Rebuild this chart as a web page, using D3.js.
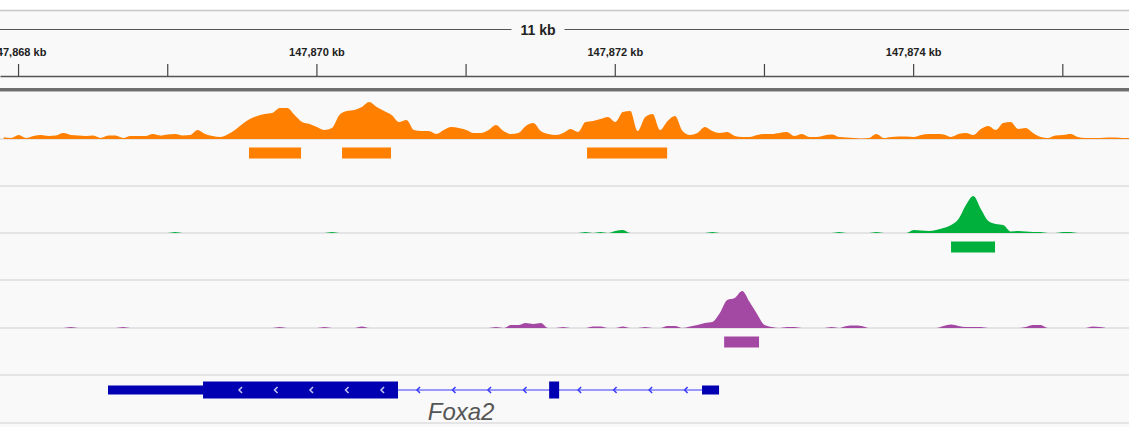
<!DOCTYPE html>
<html>
<head>
<meta charset="utf-8">
<script src="https://cdn.jsdelivr.net/npm/d3@7"></script>
<style>
  body { margin: 0; background: #f9f9f9; }
  svg { display: block; }
</style>
</head>
<body>
<svg id="igv" width="1129" height="427"></svg>
<script>
// genomic window (bp)
var viewStart = 147867879;
var viewEnd = 147875447;
var spanLabel = "11 kb";
var rulerTicks = [147868000, 147869000, 147870000, 147871000, 147872000, 147873000, 147874000, 147875000];

// coverage, 50 bp bins starting at viewStart
var binSize = 50;
var orangeValues = [
  1.7, 1, 4, 1, 3, 4, 3, 3.5, 6, 4, 3.5, 3, 3.5, 1, 3.5, 3.5, 1, 3, 3, 3,
  5, 3.5, 4.5, 5, 3.5, 4, 9, 5, 3, 2, 4.5, 9, 15, 20, 23, 25, 26, 31, 31, 24,
  17, 15, 12, 9, 11, 24, 28, 29, 32, 37, 32, 28, 24, 17, 19, 9, 8, 8, 5, 9,
  12, 11, 9, 6, 6, 9, 14, 8, 5, 6, 13, 16, 8, 5, 4, 6, 10, 7, 17, 18,
  20, 22, 17, 27, 28, 8, 22, 25, 9, 18, 23, 8, 4, 6, 12, 8, 6, 7, 3, 2,
  2, 4, 5, 5, 6, 7, 3, 5, 2, 2, 3.5, 4.5, 2, 1.5, 1, 0.5, 1, 5, 1, 2,
  2.5, 2.5, 2, 4, 5, 5, 4.5, 2, 5, 6, 4, 10, 13, 9, 16, 17, 10, 11, 6, 2,
  1, 3.5, 4, 5, 2, 1, 1, 1, 1.5, 1.5, 1, 1
];
var greenValues = [
  0, 0, 0, 0, 0, 0, 0, 0, 0, 0, 0, 0, 0, 0, 0, 0, 0, 0, 0, 0,
  0, 0, 0, 1, 0, 0, 0, 0, 0, 0, 0, 0, 0, 0, 0, 0, 0, 0, 0, 0,
  0, 0, 0, 0, 1, 0, 0, 0, 0, 0, 0, 0, 0, 0, 0, 0, 0, 0, 0, 0,
  0, 0, 0, 0, 0, 0, 0, 0, 0, 0, 0, 0, 0, 0, 0, 0, 0, 0, 1, 0,
  1, 0, 2, 3, 0, 0, 0, 0, 0, 0, 0, 0, 0, 0, 0, 1, 0, 0, 0, 0,
  0, 0, 0, 0, 0, 0, 0, 0, 0, 0, 0, 0, 1, 0, 0, 0, 0, 1, 0, 0,
  0, 0, 3, 2.5, 2, 3, 5, 8, 14, 28, 37, 24, 12, 9, 8, 1.5, 2, 1.5, 1, 1,
  0, 0, 1, 1, 0, 0, 0, 0, 0, 0, 0, 0
];
var purpleValues = [
  0, 0, 0, 0, 0, 0, 0, 0, 0, 1, 0, 0, 0, 0, 0, 0, 1, 0, 0, 0,
  0, 0, 0, 0, 0, 0, 0, 0, 0, 0, 0, 0, 0, 0, 0, 0, 0, 1, 0, 0,
  0, 0, 0, 1, 0, 0, 0, 0, 1.5, 0, 0, 0, 0, 0, 0, 0, 0, 0, 0, 0,
  0, 0, 0, 0, 0, 0, 1, 0, 3, 3, 5, 4, 5, 0, 0, 1, 0, 0, 0, 1.5,
  1.5, 0, 0, 1.5, 0, 0, 1, 0, 0, 2, 2, 0, 1.5, 3, 5, 6, 15, 28, 30, 37,
  26, 14, 3, 1, 0, 1, 1, 0, 0, 0, 0, 1, 0, 2, 2.5, 2, 0, 0, 0, 0,
  0, 0, 0, 0, 0, 0, 2, 3.5, 2, 1, 1, 1, 0, 0, 0, 0, 0, 1, 3, 3,
  0, 0, 0, 0, 0, 0, 1.5, 1, 0, 0, 0, 0
];
var dataRange = [0, 47];

// called peaks [start, end]
var orangePeaks = [[147869548, 147869897], [147870172, 147870500], [147871814, 147872351]];
var greenPeaks = [[147874254, 147874549]];
var purplePeaks = [[147872733, 147872967]];

// gene model (minus strand)
var geneName = "Foxa2";
var geneLabelPos = 147870970;
var geneStart = 147868603;
var geneEnd = 147872699;
var geneExons = [
  { start: 147868603, end: 147869240, type: "utr" },
  { start: 147869240, end: 147870547, type: "cds" },
  { start: 147871560, end: 147871627, type: "cds" },
  { start: 147872585, end: 147872699, type: "utr" }
];

var width = 1129;
var font = "'Liberation Sans', Arial, sans-serif";
var svg = d3.select("#igv");

var x = d3.scaleLinear().domain([viewStart, viewEnd]).range([0, width]);

// header
svg.append("rect").attr("x", 0).attr("y", 0).attr("width", width).attr("height", 10).attr("fill", "#ffffff");
svg.append("line").attr("x1", 0).attr("x2", width).attr("y1", 10.5).attr("y2", 10.5)
  .attr("stroke", "#c8c8c8").attr("stroke-width", 1.5);

var spanText = svg.append("text")
  .attr("x", 538).attr("y", 34.5)
  .attr("text-anchor", "middle")
  .style("font-family", font).style("font-weight", "bold").style("font-size", "14px")
  .attr("fill", "#222")
  .text(spanLabel);
var tw = spanText.node().getComputedTextLength();
svg.append("line").attr("x1", 0).attr("x2", 538 - tw / 2 - 9).attr("y1", 29.5).attr("y2", 29.5)
  .attr("stroke", "#555").attr("stroke-width", 1.2);
svg.append("line").attr("x1", 538 + tw / 2 + 9).attr("x2", width).attr("y1", 29.5).attr("y2", 29.5)
  .attr("stroke", "#555").attr("stroke-width", 1.2);

// ruler
var ruler = d3.axisTop(x)
  .tickValues(rulerTicks)
  .tickSize(12)
  .tickSizeOuter(0)
  .tickPadding(8)
  .tickFormat(function (d) {
    return (d / 1000) % 2 === 0 ? d3.format(",")(d / 1000) + " kb" : "";
  });

var gRuler = svg.append("g").attr("transform", "translate(0,76)").call(ruler);
gRuler.select(".domain").attr("stroke", "#555").attr("stroke-width", 1.5);
gRuler.selectAll(".tick line").attr("stroke", "#444").attr("stroke-width", 1.2);
gRuler.selectAll(".tick text")
  .style("font-family", font).style("font-weight", "bold").style("font-size", "11px")
  .attr("fill", "#222");

svg.append("rect").attr("x", 0).attr("y", 88).attr("width", width).attr("height", 3).attr("fill", "#6e6e6e");
svg.append("line").attr("x1", 0).attr("x2", width).attr("y1", 91.5).attr("y2", 91.5)
  .attr("stroke", "#b8b8b8").attr("stroke-width", 1);

// tracks
var trackH = 47;
var tracks = [
  { values: orangeValues, peaks: orangePeaks, color: "#ff7f00", top: 92 },
  { values: greenValues, peaks: greenPeaks, color: "#00b03c", top: 186 },
  { values: purpleValues, peaks: purplePeaks, color: "#a349a4", top: 281 }
];

svg.append("defs").append("clipPath").attr("id", "clip")
  .append("rect").attr("x", 0).attr("y", 0).attr("width", width).attr("height", 427);

tracks.forEach(function (t) {
  var base = t.top + trackH;
  var y = d3.scaleLinear().domain(dataRange).range([base, base - trackH]);

  svg.append("line").attr("x1", 0).attr("x2", width).attr("y1", base).attr("y2", base)
    .attr("stroke", "#dcdce1").attr("stroke-width", 1.5);
  svg.append("line").attr("x1", 0).attr("x2", width).attr("y1", base + trackH).attr("y2", base + trackH)
    .attr("stroke", "#dcdce1").attr("stroke-width", 1.5);

  svg.append("path")
    .datum(t.values)
    .attr("clip-path", "url(#clip)")
    .attr("fill", t.color)
    .attr("d", d3.area()
      .curve(d3.curveMonotoneX)
      .x(function (d, i) { return x(viewStart + i * binSize + binSize / 2); })
      .y0(base)
      .y1(function (d) { return y(d); })
    );

  svg.selectAll(null)
    .data(t.peaks)
    .enter()
    .append("rect")
    .attr("x", function (d) { return x(d[0]); })
    .attr("width", function (d) { return x(d[1]) - x(d[0]); })
    .attr("y", base + 8.5)
    .attr("height", 11)
    .attr("fill", t.color);
});

// gene track
var gy = 390;
var geneColor = "#0000b2";
svg.append("line").attr("x1", 0).attr("x2", width).attr("y1", 423).attr("y2", 423)
  .attr("stroke", "#dcdce1").attr("stroke-width", 1.5);

svg.append("line")
  .attr("x1", x(geneStart)).attr("x2", x(geneEnd))
  .attr("y1", gy).attr("y2", gy)
  .attr("stroke", "#3a3aff").attr("stroke-width", 1);

svg.selectAll(".exon")
  .data(geneExons)
  .enter()
  .append("rect")
  .attr("class", "exon")
  .attr("x", function (d) { return x(d.start); })
  .attr("width", function (d) { return x(d.end) - x(d.start); })
  .attr("y", function (d) { return d.type === "cds" ? gy - 8.5 : gy - 4.5; })
  .attr("height", function (d) { return d.type === "cds" ? 17 : 9; })
  .attr("fill", geneColor);

// strand arrows
var arrows = [];
for (var i = 0; i < geneExons.length; i++) {
  var e = geneExons[i];
  if (e.type === "cds" && x(e.end) - x(e.start) > 50) {
    d3.range(x(e.start) + 37, x(e.end) - 8, 35.5).forEach(function (p) { arrows.push({ x: p, inExon: true }); });
  }
  if (i > 0 && geneExons[i - 1].end < e.start) {
    d3.range(x(geneExons[i - 1].end) + 20, x(e.start) - 8, 35.5).forEach(function (p) { arrows.push({ x: p, inExon: false }); });
  }
}

svg.selectAll(".arrow")
  .data(arrows)
  .enter()
  .append("path")
  .attr("class", "arrow")
  .attr("d", function (d) { return "M" + (d.x + 2) + "," + (gy - 3) + "L" + (d.x - 1) + "," + gy + "L" + (d.x + 2) + "," + (gy + 3); })
  .attr("fill", "none")
  .attr("stroke", function (d) { return d.inExon ? "#c8c8f0" : "#3a3aff"; })
  .attr("stroke-width", 1.5);

svg.append("text")
  .attr("x", x(geneLabelPos))
  .attr("y", 420)
  .attr("text-anchor", "middle")
  .style("font-family", font).style("font-style", "italic").style("font-size", "24px")
  .attr("fill", "#555")
  .text(geneName);
</script>
</body>
</html>
